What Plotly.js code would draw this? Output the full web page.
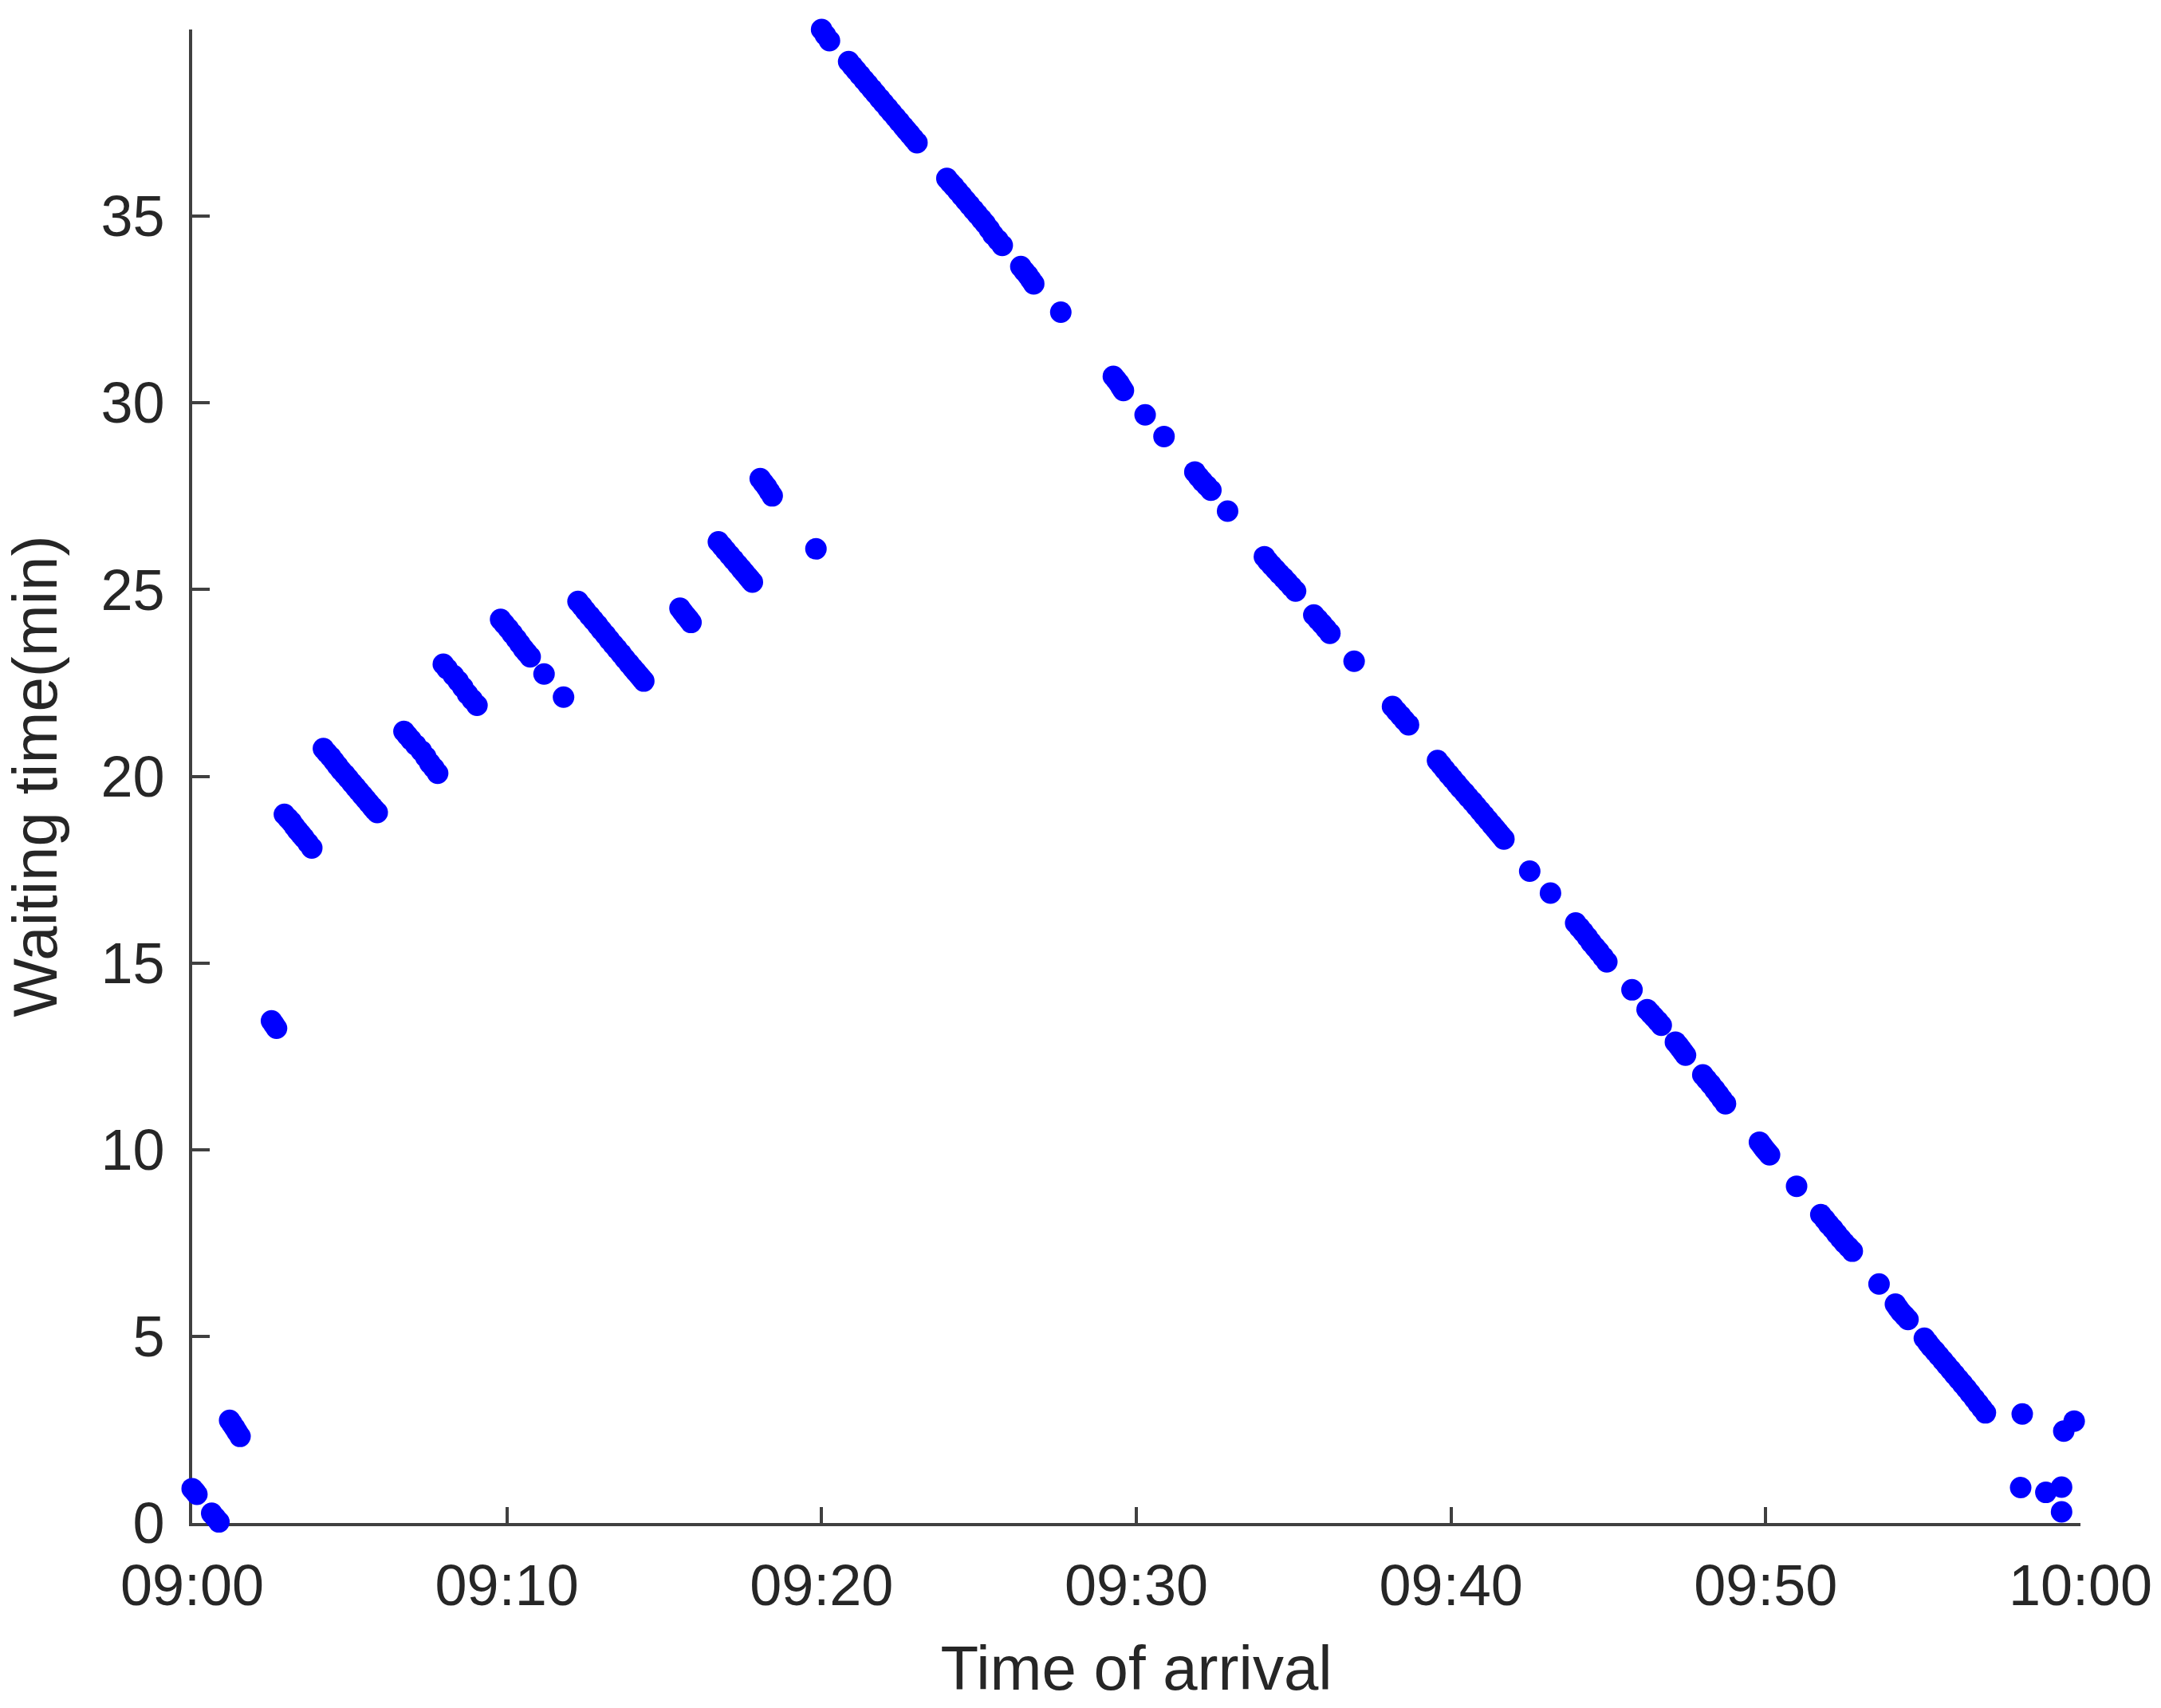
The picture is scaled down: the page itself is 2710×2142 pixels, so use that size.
<!DOCTYPE html>
<html>
<head>
<meta charset="utf-8">
<script src="https://cdn.plot.ly/plotly-3.0.1.min.js"></script>
<style>html,body{margin:0;padding:0;background:#fff;}#chart{width:2710px;height:2142px;}</style>
</head>
<body>
<div id="chart"></div>
<script>
// Arrival time in minutes after 09:00, waiting time in minutes
const risingArrival = [0.0,0.08,0.15,0.62,0.73,0.85,
  1.19,1.27,1.35,1.43,1.52,
  2.52,2.6,2.68,
  2.93,3.05,3.15,3.25,3.35,3.45,3.55,3.68,3.8,
  4.17,4.28,4.4,4.51,4.62,4.73,4.85,4.96,5.08,5.19,5.3,5.41,5.52,5.62,5.72,5.8,5.88,
  6.73,6.84,6.95,7.1,7.28,7.42,7.55,7.68,7.8,
  7.98,8.1,8.3,8.45,8.6,8.75,8.9,9.05,
  9.8,9.92,10.05,10.17,10.3,10.41,10.52,10.63,10.74,11.18,11.8,
  12.26,12.38,12.5,12.63,12.75,12.88,13.0,13.13,13.25,13.38,13.5,13.63,13.75,13.88,14.0,14.1,14.2,14.28,14.35,
  15.5,15.59,15.68,15.77,15.85,
  16.72,16.84,16.95,17.08,17.2,17.33,17.45,17.55,17.65,17.73,17.8,
  18.05,18.15,18.25,18.34,18.43,
  19.82];
const risingWait = [0.92,0.85,0.77,0.26,0.15,0.03,
  2.75,2.65,2.55,2.44,2.32,
  13.45,13.35,13.25,
  18.98,18.87,18.78,18.66,18.55,18.45,18.35,18.21,18.08,
  20.74,20.63,20.52,20.4,20.28,20.16,20.05,19.94,19.82,19.71,19.6,19.49,19.38,19.28,19.18,19.1,19.03,
  21.2,21.09,20.98,20.84,20.68,20.52,20.35,20.22,20.08,
  23.0,22.88,22.7,22.55,22.38,22.2,22.05,21.9,
  24.2,24.08,23.95,23.82,23.68,23.55,23.42,23.31,23.2,22.74,22.12,
  24.68,24.56,24.43,24.3,24.18,24.05,23.92,23.79,23.66,23.53,23.41,23.28,23.15,23.02,22.9,22.8,22.7,22.62,22.55,
  24.5,24.4,24.3,24.21,24.12,
  26.28,26.16,26.05,25.92,25.8,25.67,25.55,25.45,25.35,25.27,25.2,
  27.97,27.86,27.75,27.63,27.51,
  26.09];

const fallingArrival = [20.0,20.12,20.25,
  20.86,20.98,21.1,21.22,21.35,21.47,21.6,21.72,21.85,21.97,22.1,22.22,22.35,22.47,22.6,22.7,22.8,22.92,23.03,
  23.98,24.09,24.2,24.33,24.45,24.58,24.7,24.83,24.95,25.08,25.2,25.33,25.45,25.6,25.74,
  26.33,26.44,26.55,26.65,26.74,
  27.6,
  29.27,29.36,29.45,29.52,29.59,
  30.28,30.88,
  31.86,31.98,32.1,32.24,32.37,
  32.9,
  34.07,34.18,34.3,34.43,34.55,34.68,34.8,34.93,35.06,
  35.64,35.77,35.9,36.03,36.15,
  36.92,
  38.14,38.27,38.4,38.52,38.65,
  39.57,39.69,39.8,39.93,40.05,40.18,40.3,40.43,40.55,40.68,40.8,40.93,41.05,41.18,41.3,41.4,41.5,41.59,41.68,
  42.5,43.16,
  43.96,44.08,44.2,44.33,44.45,44.58,44.7,44.83,44.95,
  45.75,
  46.23,46.34,46.45,46.57,46.68,
  47.13,47.22,47.3,47.38,47.45,
  48.0,48.12,48.25,48.38,48.5,48.61,48.72,
  49.8,49.88,49.95,50.04,50.12,
  50.98,
  51.75,51.88,52.0,52.13,52.25,52.38,52.5,52.63,52.75,
  53.6,
  54.12,54.21,54.3,54.41,54.52,
  55.04,55.15,55.25,55.38,55.5,55.63,55.75,55.88,56.0,56.13,56.25,56.38,56.5,56.63,56.75,56.87,56.98];
const fallingWait = [40.0,39.85,39.7,
  39.14,39.02,38.9,38.78,38.65,38.53,38.4,38.28,38.15,38.03,37.9,37.78,37.65,37.53,37.4,37.3,37.2,37.08,36.97,
  36.01,35.9,35.8,35.67,35.55,35.42,35.3,35.17,35.05,34.92,34.8,34.65,34.5,34.36,34.22,
  33.65,33.53,33.42,33.3,33.19,
  32.43,
  30.71,30.62,30.52,30.42,30.33,
  29.68,29.1,
  28.15,28.02,27.9,27.78,27.66,
  27.1,
  25.88,25.76,25.65,25.53,25.42,25.31,25.2,25.08,24.96,
  24.32,24.2,24.08,23.95,23.83,
  23.08,
  21.87,21.74,21.62,21.5,21.38,
  20.42,20.3,20.18,20.05,19.93,19.8,19.68,19.56,19.44,19.32,19.2,19.07,18.95,18.82,18.7,18.6,18.5,18.41,18.32,
  17.46,16.87,
  16.07,15.95,15.83,15.69,15.55,15.42,15.3,15.16,15.03,
  14.28,
  13.75,13.65,13.55,13.44,13.33,
  12.88,12.79,12.7,12.61,12.53,
  12.0,11.88,11.75,11.61,11.48,11.35,11.23,
  10.2,10.11,10.03,9.94,9.86,
  9.02,
  8.26,8.13,8.0,7.88,7.75,7.62,7.5,7.39,7.28,
  6.4,
  5.86,5.75,5.65,5.55,5.45,
  4.95,4.83,4.72,4.6,4.48,4.35,4.23,4.1,3.98,3.85,3.73,3.6,3.47,3.33,3.2,3.07,2.95];

const tailArrival = [58.15,59.47,59.8,58.1,58.9,59.4,59.4];
const tailWait = [2.92,2.46,2.73,0.95,0.82,0.96,0.3];

const xTickMinutes = [0,10,20,30,40,50,60];
const xTickLabels = ["09:00","09:10","09:20","09:30","09:40","09:50","10:00"];
const yTickValues = [0,5,10,15,20,25,30,35];

const markerStyle = {color:'rgb(0,0,255)', size:27, line:{width:0}};
function series(x, y){
  return {x:x, y:y, type:'scatter', mode:'markers', marker:markerStyle,
          cliponaxis:false, hoverinfo:'x+y', showlegend:false};
}
const data = [series(risingArrival, risingWait),
              series(fallingArrival, fallingWait),
              series(tailArrival, tailWait)];

const axisColor = '#404040';
const textColor = '#262626';
const fontFam = '"Liberation Sans", Arial, sans-serif';

const layout = {
  width:2710, height:2142,
  paper_bgcolor:'#ffffff', plot_bgcolor:'#ffffff',
  margin:{l:241, r:101, t:37, b:232, pad:0},
  showlegend:false,
  font:{family:fontFam, color:textColor, size:72},
  xaxis:{
    range:[0,60], autorange:false,
    tickmode:'array', tickvals:xTickMinutes, ticktext:xTickLabels,
    ticks:'inside', ticklen:20, tickwidth:4, tickcolor:axisColor,
    showline:true, linecolor:axisColor, linewidth:4,
    showgrid:false, zeroline:false, mirror:false,
    tickfont:{family:fontFam, size:72, color:textColor},
    ticklabelstandoff:13,
    layer:'below traces',
    automargin:false,
    title:{text:'Time of arrival', font:{family:fontFam, size:78, color:textColor}, standoff:38}
  },
  yaxis:{
    range:[0,40], autorange:false,
    tickmode:'array', tickvals:yTickValues,
    ticks:'inside', ticklen:22, tickwidth:4, tickcolor:axisColor,
    showline:true, linecolor:axisColor, linewidth:4,
    showgrid:false, zeroline:false, mirror:false,
    tickfont:{family:fontFam, size:72, color:textColor},
    ticklabelstandoff:16,
    layer:'below traces',
    automargin:false,
    title:{text:'Waiting time(min)', font:{family:fontFam, size:78, color:textColor}, standoff:30}
  }
};

Plotly.newPlot('chart', data, layout, {displayModeBar:false, staticPlot:true});
</script>
</body>
</html>
